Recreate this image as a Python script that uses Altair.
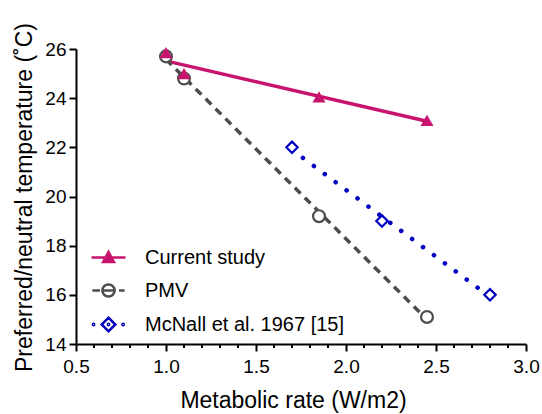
import altair as alt
import pandas as pd

# ---- data ----
series_names = ["Current study", "PMV", "McNall et al. 1967 [15]"]

current_x = [1.0, 1.1, 1.85, 2.45]
current_y = [25.85, 25.0, 24.05, 23.1]

pmv_x = [1.0, 1.1, 1.85, 2.45]
pmv_y = [25.7, 24.8, 19.2, 15.1]

mcnall_x = [1.7, 2.2, 2.8]
mcnall_y = [22.0, 19.0, 16.0]

x_ticks = [0.5, 1.0, 1.5, 2.0, 2.5, 3.0]
x_minor = [0.6, 0.7, 0.8, 0.9, 1.1, 1.2, 1.3, 1.4, 1.6, 1.7, 1.8, 1.9,
           2.1, 2.2, 2.3, 2.4, 2.6, 2.7, 2.8, 2.9]
y_ticks = [14, 16, 18, 20, 22, 24, 26]

# ---- styles ----
MAGENTA = "#C8146E"
GRAY = "#4D4D4D"
BLUE = "#0000C0"
FONT = "Liberation Sans"
PLOT_W, PLOT_H = 450, 295

rows = []
for name, xs, ys in [(series_names[0], current_x, current_y),
                     (series_names[1], pmv_x, pmv_y),
                     (series_names[2], mcnall_x, mcnall_y)]:
    for a, b in zip(xs, ys):
        rows.append({"series": name, "rate": a, "temp": b})
df = pd.DataFrame(rows)

xscale = alt.Scale(domain=[0.5, 3.0], nice=False, zero=False)
yscale = alt.Scale(domain=[14, 26], nice=False, zero=False)

x_axis = alt.Axis(values=x_ticks, format=".1f", orient="bottom", grid=False,
                  labelOverlap=False, labelBound=False,
                  tickSize=7, tickWidth=2, domainWidth=2, domainColor="black",
                  tickColor="black", labelColor="black", labelFontSize=19,
                  labelFont=FONT, labelPadding=6, labelFlush=False,
                  title="Metabolic rate (W/m2)", titleFont=FONT,
                  titleFontSize=23, titleFontWeight="normal", titleColor="black",
                  titleBaseline="alphabetic", titleY=63, titleX=217)
y_axis = alt.Axis(values=y_ticks, format="d", grid=False, tickSize=7,
                  tickWidth=2, domainWidth=2, domainColor="black",
                  tickColor="black", labelColor="black", labelFontSize=19,
                  labelFont=FONT, labelPadding=3, labelFlush=False,
                  title="Preferred/neutral temperature (˚C)", titleFont=FONT,
                  titleFontSize=23, titleFontWeight="normal", titleColor="black",
                  titleBaseline="alphabetic", titleX=-45, titleY=148,
                  titleAngle=-90, titleAlign="center")

base = alt.Chart(df)


def sel(name):
    return alt.datum.series == name


# regression lines
line_cur = base.transform_filter(sel(series_names[0])).transform_regression(
    "rate", "temp").mark_line(color=MAGENTA, strokeWidth=3.5)
line_pmv = base.transform_filter(sel(series_names[1])).transform_regression(
    "rate", "temp").mark_line(color=GRAY, strokeWidth=3.5, strokeDash=[8, 6])
line_mc = base.transform_filter(sel(series_names[2])).transform_regression(
    "rate", "temp").mark_line(color=BLUE, strokeWidth=4.5, strokeCap="round",
                              strokeDash=[0.1, 13.5])

# points
pts_pmv = base.transform_filter(sel(series_names[1])).mark_point(
    shape="circle", size=140, filled=True, fill="white", stroke=GRAY,
    strokeWidth=2.2, opacity=1)
pts_mc = base.transform_filter(sel(series_names[2])).mark_point(
    shape="diamond", size=130, filled=True, fill="white", stroke=BLUE,
    strokeWidth=2.2, opacity=1)
pts_cur = base.transform_filter(sel(series_names[0])).mark_point(
    shape="triangle-up", size=170, filled=True, color=MAGENTA, opacity=1)

# legend symbols (line + marker), custom paths in units of half the symbol width
circ = "M-0.36,0A0.36,0.36 0 1,1 0.36,0A0.36,0.36 0 1,1 -0.36,0Z"
dot = lambda cx: f"M{cx-0.04},0A0.04,0.04 0 1,1 {cx+0.04},0A0.04,0.04 0 1,1 {cx-0.04},0Z"
shape_paths = [
    "M-1,0L1,0M-0.32,0.27L0,-0.33L0.32,0.27Z",
    "M-0.95,0L-0.5,0M-0.36,0L0.36,0M0.62,0L0.95,0" + circ,
    dot(-0.88) + dot(0.0) + dot(0.86) + "M0,-0.4L0.4,0L0,0.4L-0.4,0Z",
]

legend = alt.Legend(title=None, orient="none", legendX=14, legendY=190,
                    symbolSize=1156, symbolStrokeWidth=2.5, symbolOpacity=1,
                    labelFont=FONT, labelFontSize=20, labelColor="black",
                    labelOffset=18, rowPadding=4, padding=0, labelLimit=400)

legend_layer = base.mark_point(opacity=0, size=1).encode(
    shape=alt.Shape("series:N", scale=alt.Scale(domain=series_names,
                                                range=shape_paths),
                    legend=legend),
    stroke=alt.Stroke("series:N", scale=alt.Scale(domain=series_names,
                                                  range=[MAGENTA, GRAY, BLUE]),
                      legend=legend),
    fill=alt.Fill("series:N", scale=alt.Scale(domain=series_names,
                                              range=[MAGENTA, "white", "white"]),
                  legend=legend),
)

main = alt.layer(
    line_cur, line_pmv, line_mc, pts_pmv, pts_mc, pts_cur, legend_layer
).encode(
    x=alt.X("rate:Q", scale=xscale, axis=x_axis),
    y=alt.Y("temp:Q", scale=yscale, axis=y_axis),
)

# minor x-axis ticks (every 0.1), hanging below the axis line
minor_ticks = alt.Chart(pd.DataFrame({"rate": x_minor})).mark_rule(
    color="black", strokeWidth=2).encode(
    x=alt.X("rate:Q", scale=xscale, axis=x_axis),
    y=alt.value(PLOT_H),
    y2=alt.value(PLOT_H + 4),
)

chart = alt.layer(main, minor_ticks).properties(
    width=PLOT_W, height=PLOT_H,
    autosize=alt.AutoSizeParams(type="none"),
    padding={"left": 76, "top": 49, "right": 16, "bottom": 70},
    background="white",
).configure_view(stroke=None)

chart.save("out.html", embed_options={"renderer": "svg", "actions": False})
